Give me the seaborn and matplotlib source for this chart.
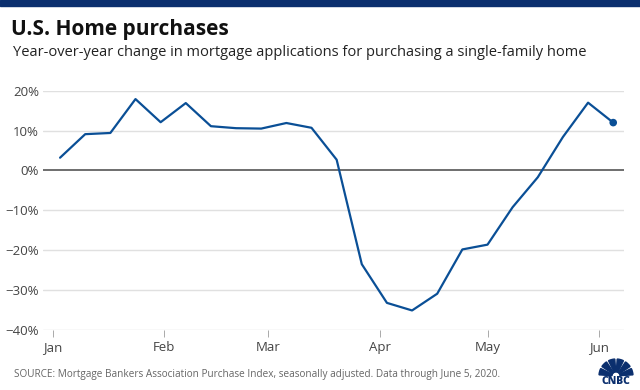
import matplotlib.pyplot as plt
from matplotlib.dates import DateFormatter, MonthLocator
from matplotlib.patches import Rectangle, Wedge
from matplotlib.ticker import FuncFormatter
import pandas as pd
import seaborn as sns


WEEK_ENDING = pd.date_range("2020-01-03", "2020-06-05", freq="7D")
YOY_CHANGE = [
    3.2, 9.1, 9.4, 17.9, 12.1, 16.9, 11.1, 10.6, 10.5, 11.9, 10.7, 2.7,
    -23.5, -33.2, -35.1, -30.9, -19.8, -18.6, -9.2, -1.7, 8.4, 17.0, 12.0,
]
Y_TICKS = [20, 10, 0, -10, -20, -30, -40]
X_RANGE = (pd.Timestamp("2019-12-29 06:00"), pd.Timestamp("2020-06-08"))

NAVY = "#0b2f6e"
LINE = "#0a4f96"
FONT = ["Open Sans", "DejaVu Sans"]


def pct_label(value, _position):
    return f"{value:.0f}%".replace("-", "\u2212")


def main():
    sns.set_theme(style="white")
    plt.rcParams["font.family"] = FONT

    df = pd.DataFrame({"date": WEEK_ENDING, "change": YOY_CHANGE})

    fig = plt.figure(figsize=(6.4, 3.9), dpi=100)
    ax = fig.add_axes([43 / 640, 1 - 330 / 390, (624 - 43) / 640, (330 - 90.7) / 390])

    fig.patches.append(Rectangle((0, 1 - 6 / 390), 1, 6 / 390, transform=fig.transFigure,
                                 color=NAVY, zorder=0))

    for y in Y_TICKS:
        if y != 0:
            ax.axhline(y, color="#e0e0e0", lw=1, zorder=0)
    ax.axhline(0, color="#555555", lw=1.2, zorder=1)

    sns.lineplot(data=df, x="date", y="change", color=LINE, lw=1.6, ax=ax, zorder=3)
    sns.scatterplot(data=df.iloc[[-1]], x="date", y="change", color=LINE, s=30,
                    edgecolor="none", ax=ax, zorder=4)

    ax.set_xlim(*X_RANGE)
    ax.set_ylim(-40, 20)
    ax.set_yticks(Y_TICKS)
    ax.yaxis.set_major_formatter(FuncFormatter(pct_label))
    ax.xaxis.set_major_locator(MonthLocator())
    ax.xaxis.set_major_formatter(DateFormatter("%b"))
    ax.tick_params(axis="y", length=0, pad=3, labelsize=9.5, labelcolor="#444444")
    ax.tick_params(axis="x", length=5, width=0.7, color="#aaaaaa", direction="out",
                   pad=3, labelsize=9.5, labelcolor="#444444", bottom=True)
    ax.set_xlabel("")
    ax.set_ylabel("")
    sns.despine(ax=ax, left=True, bottom=True)

    fig.text(11 / 640, 1 - 30 / 390, "U.S. Home purchases", fontsize=15,
             fontweight="bold", color="#111111", va="center")
    fig.text(13 / 640, 1 - 52 / 390,
             "Year-over-year change in mortgage applications for purchasing a single-family home",
             fontsize=10.5, color="#222222", va="center")
    fig.text(14 / 640, 1 - 374 / 390,
             "SOURCE: Mortgage Bankers Association Purchase Index, seasonally adjusted. "
             "Data through June 5, 2020.",
             fontsize=7.2, color="#666666", va="center")

    # rough CNBC peacock mark
    for ang in range(0, 180, 30):
        fig.patches.append(Wedge((616, 14), 17, ang + 4, ang + 26,
                                 width=13, transform=None, color=NAVY))
    fig.text(616 / 640, 1 - 381 / 390, "CNBC", fontsize=7.5, fontweight="heavy",
             color=NAVY, ha="center", va="center")

    fig.savefig("out.png", dpi=100)
    plt.close(fig)


if __name__ == "__main__":
    main()
